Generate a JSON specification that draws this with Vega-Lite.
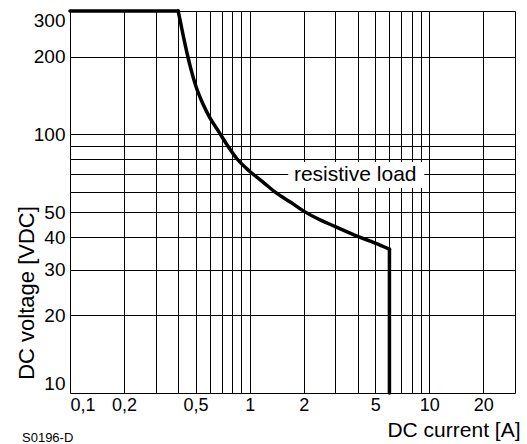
{
  "$schema": "https://vega.github.io/schema/vega-lite/v6.json",
  "width": 445,
  "height": 382,
  "autosize": {"type": "none"},
  "padding": {"left": 70, "top": 11, "right": 12, "bottom": 51},
  "background": "white",
  "config": {"view": {"stroke": null}, "font": "Liberation Sans"},
  "title": {"text": "S0196-D", "orient": "bottom", "anchor": "start", "frame": "group", "dx": -48, "offset": -8, "fontSize": 13, "fontWeight": "normal", "color": "black", "font": "Liberation Sans"},
  "datasets": {
    "curve": [
      {"seg": "a", "seq": 1, "I": 0.1, "V": 300},
      {"seg": "a", "seq": 2, "I": 0.4, "V": 300},
      {"seg": "b", "seq": 3, "I": 0.4, "V": 300},
      {"seg": "b", "seq": 4, "I": 0.415, "V": 265},
      {"seg": "b", "seq": 5, "I": 0.43, "V": 235},
      {"seg": "b", "seq": 6, "I": 0.449, "V": 205},
      {"seg": "b", "seq": 7, "I": 0.47, "V": 180},
      {"seg": "b", "seq": 8, "I": 0.5, "V": 155},
      {"seg": "b", "seq": 9, "I": 0.55, "V": 131},
      {"seg": "b", "seq": 10, "I": 0.6, "V": 116},
      {"seg": "b", "seq": 11, "I": 0.67, "V": 103},
      {"seg": "b", "seq": 12, "I": 0.75, "V": 91},
      {"seg": "b", "seq": 13, "I": 0.85, "V": 80.5},
      {"seg": "b", "seq": 14, "I": 1.0, "V": 72},
      {"seg": "b", "seq": 15, "I": 1.2, "V": 65},
      {"seg": "b", "seq": 16, "I": 1.4, "V": 59.5},
      {"seg": "b", "seq": 17, "I": 1.7, "V": 54.5},
      {"seg": "b", "seq": 18, "I": 2.0, "V": 50.5},
      {"seg": "b", "seq": 19, "I": 2.5, "V": 46.5},
      {"seg": "b", "seq": 20, "I": 3.0, "V": 44},
      {"seg": "b", "seq": 21, "I": 4.0, "V": 40.3},
      {"seg": "b", "seq": 22, "I": 5.0, "V": 38},
      {"seg": "b", "seq": 23, "I": 6.0, "V": 36},
      {"seg": "c", "seq": 24, "I": 6.0, "V": 36},
      {"seg": "c", "seq": 25, "I": 6.0, "V": 10}
    ],
    "box": [{"I": 1.64, "I2": 9.38, "V": 62, "V2": 78.2}],
    "label": [{"I": 3.87, "V": 70, "text": "resistive load"}]
  },
  "layer": [
    {
      "data": {"name": "box"},
      "mark": {"type": "rect", "fill": "white"},
      "encoding": {
        "x": {
          "field": "I", "type": "quantitative",
          "scale": {"type": "log", "domain": [0.1, 30], "nice": false},
          "axis": {
            "title": "DC current [A]",
            "values": [0.1, 0.2, 0.3, 0.4, 0.5, 0.6, 0.7, 0.8, 0.9, 1, 2, 3, 4, 5, 6, 7, 8, 9, 10, 20, 30],
            "labelExpr": "indexof([0.1, 0.2, 0.5, 1, 2, 5, 10, 20], datum.value) >= 0 ? replace(format(datum.value, '~g'), '.', ',') : ''",
            "grid": true, "gridColor": "black", "gridOpacity": 1, "gridWidth": 1,
            "ticks": false, "tickSize": 0, "domain": false,
            "labelFontSize": 18, "labelColor": "black", "labelPadding": 3, "labelFlush": true, "labelOverlap": false, "labelFont": "Liberation Sans",
            "titleFontSize": 21, "titleFontWeight": "normal", "titleColor": "black", "titleFont": "Liberation Sans",
            "titleAlign": "right", "titleAnchor": null, "titleX": 450, "titleY": 43, "titleBaseline": "alphabetic"
          }
        },
        "x2": {"field": "I2"},
        "y": {
          "field": "V", "type": "quantitative",
          "scale": {"type": "log", "domain": [10, 300], "nice": false},
          "axis": {
            "title": "DC voltage [VDC]",
            "values": [10, 20, 30, 40, 50, 60, 70, 80, 90, 100, 200, 300],
            "labelExpr": "indexof([10, 20, 30, 40, 50, 100, 200, 300], datum.value) >= 0 ? format(datum.value, '~g') : ''",
            "grid": true, "gridColor": "black", "gridOpacity": 1, "gridWidth": 1,
            "ticks": false, "tickSize": 0, "domain": false,
            "labelFontSize": 19, "labelColor": "black", "labelPadding": 5, "labelFlush": true, "labelOverlap": false, "labelFont": "Liberation Sans",
            "titleFontSize": 22, "titleFontWeight": "normal", "titleColor": "black", "titleFont": "Liberation Sans",
            "titleAngle": -90, "titleAlign": "center", "titleAnchor": null, "titleX": -37, "titleY": 281.5, "titleBaseline": "alphabetic"
          }
        },
        "y2": {"field": "V2"}
      }
    },
    {
      "data": {"name": "curve"},
      "mark": {"type": "line", "color": "black", "strokeWidth": 3.5, "strokeCap": "round", "strokeJoin": "round", "interpolate": "monotone"},
      "encoding": {
        "x": {"field": "I", "type": "quantitative"},
        "y": {"field": "V", "type": "quantitative"},
        "detail": {"field": "seg", "type": "nominal"},
        "order": {"field": "seq", "type": "quantitative"}
      }
    },
    {
      "data": {"name": "label"},
      "mark": {"type": "text", "fontSize": 21, "align": "center", "baseline": "middle", "dy": 1, "color": "black", "font": "Liberation Sans"},
      "encoding": {
        "x": {"field": "I", "type": "quantitative"},
        "y": {"field": "V", "type": "quantitative"},
        "text": {"field": "text"}
      }
    }
  ]
}
